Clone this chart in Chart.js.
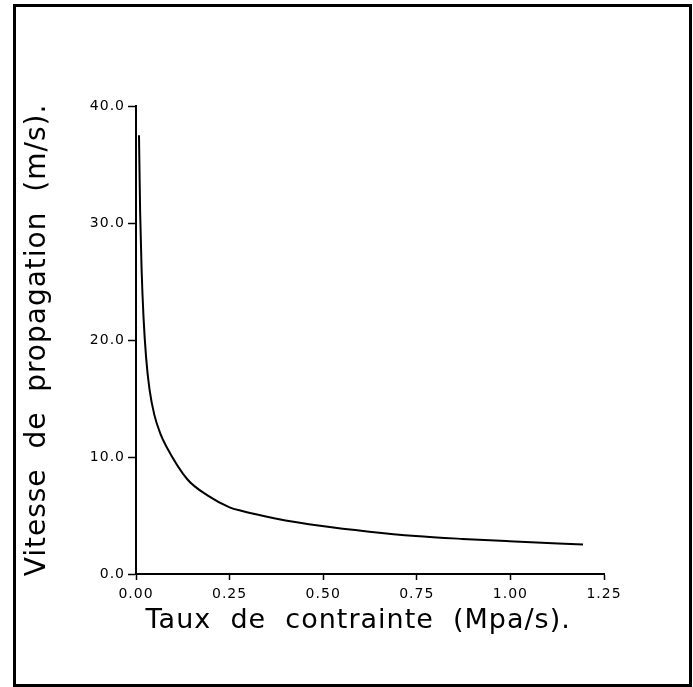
<!DOCTYPE html>
<html lang="fr">
<head>
<meta charset="utf-8">
<title>Vitesse de propagation</title>
<script src="https://cdn.jsdelivr.net/npm/chart.js@4.4.1/dist/chart.umd.min.js"></script>
<style>
    html, body {
        margin: 0;
        padding: 0;
        background: #fff;
    }
    .page {
        position: relative;
        width: 693px;
        height: 687px;
        overflow: hidden;
    }
    .frame {
        position: absolute;
        left: 13px;
        top: 4px;
        width: 679px;
        height: 683px;
        border: 3px solid #000;
        box-sizing: border-box;
        pointer-events: none;
    }
    #speedChart {
        position: absolute;
        left: 0;
        top: 0;
    }
</style>
</head>
<body>
<div class="page">
    <canvas id="speedChart" width="693" height="687"></canvas>
    <div class="frame"></div>
</div>
<script>
// Taux de contrainte (Mpa/s) and measured propagation speed (m/s)
const rateValues  = [0.008, 0.011, 0.015, 0.020, 0.027, 0.036, 0.049, 0.065, 0.081, 0.137, 0.192, 0.250, 0.281, 0.372, 0.497, 0.623, 0.747, 0.872, 0.997, 1.194];
const speedValues = [37.5,  31.0,  26.0,  22.0,  18.5,  15.8,  13.6,  12.0,  10.9,  8.1,   6.7,   5.7,   5.4,   4.75,  4.1,   3.62,  3.25,  3.0,   2.8,   2.52];

// Axis ticks
const xTicks = [0, 0.25, 0.5, 0.75, 1.0, 1.25];
const yTicks = [0, 10, 20, 30, 40];

// Plotter-style titles with wide word gaps
const xTitle = ' Taux  de  contrainte  (Mpa/s).';
const yTitle = 'Vitesse  de  propagation  (m/s).';

document.addEventListener('DOMContentLoaded', function() {
    const canvas = document.getElementById('speedChart');
    const points = rateValues.map((x, i) => ({ x: x, y: speedValues[i] }));

    const plotFont = 'DejaVu Sans';

    // Slightly spaced lettering for every text on the canvas
    const letterSpacingPlugin = {
        id: 'letterSpacing',
        beforeDraw: function(chart) {
            chart.ctx.letterSpacing = '1px';
        }
    };

    new Chart(canvas, {
        type: 'line',
        data: {
            datasets: [{
                data: points,
                borderColor: '#000',
                borderWidth: 2,
                pointRadius: 0,
                fill: false,
                cubicInterpolationMode: 'monotone'
            }]
        },
        plugins: [letterSpacingPlugin],
        options: {
            responsive: false,
            animation: false,
            layout: {
                padding: { left: 20, top: 106, right: 89, bottom: 20 }
            },
            plugins: {
                legend: { display: false },
                tooltip: { enabled: false }
            },
            scales: {
                x: {
                    type: 'linear',
                    min: 0,
                    max: 1.25,
                    afterBuildTicks: function(scale) {
                        scale.ticks = xTicks.map(v => ({ value: v }));
                    },
                    afterFit: function(scale) {
                        scale.height = 93;
                    },
                    border: { display: true, color: '#000', width: 2 },
                    grid: {
                        drawOnChartArea: false,
                        drawTicks: true,
                        tickLength: 6,
                        tickWidth: 1.5,
                        tickColor: '#000'
                    },
                    ticks: {
                        color: '#000',
                        padding: 6,
                        maxRotation: 0,
                        font: { family: plotFont, size: 14 },
                        callback: function(value) {
                            return Number(value).toFixed(2);
                        }
                    },
                    title: {
                        display: true,
                        text: xTitle,
                        align: 'start',
                        color: '#000',
                        font: { family: plotFont, size: 27 },
                        padding: { top: 0, bottom: 30 }
                    }
                },
                y: {
                    type: 'linear',
                    min: 0,
                    max: 40,
                    afterBuildTicks: function(scale) {
                        scale.ticks = yTicks.map(v => ({ value: v }));
                    },
                    afterFit: function(scale) {
                        scale.width = 116;
                    },
                    border: { display: true, color: '#000', width: 2 },
                    grid: {
                        drawOnChartArea: false,
                        drawTicks: true,
                        tickLength: 8,
                        tickWidth: 1.5,
                        tickColor: '#000'
                    },
                    ticks: {
                        color: '#000',
                        padding: 3,
                        font: { family: plotFont, size: 14 },
                        callback: function(value) {
                            return Number(value).toFixed(1);
                        }
                    },
                    title: {
                        display: true,
                        text: yTitle,
                        color: '#000',
                        font: { family: plotFont, size: 28 },
                        padding: { top: 1, bottom: 0 }
                    }
                }
            }
        }
    });
});
</script>
</body>
</html>
